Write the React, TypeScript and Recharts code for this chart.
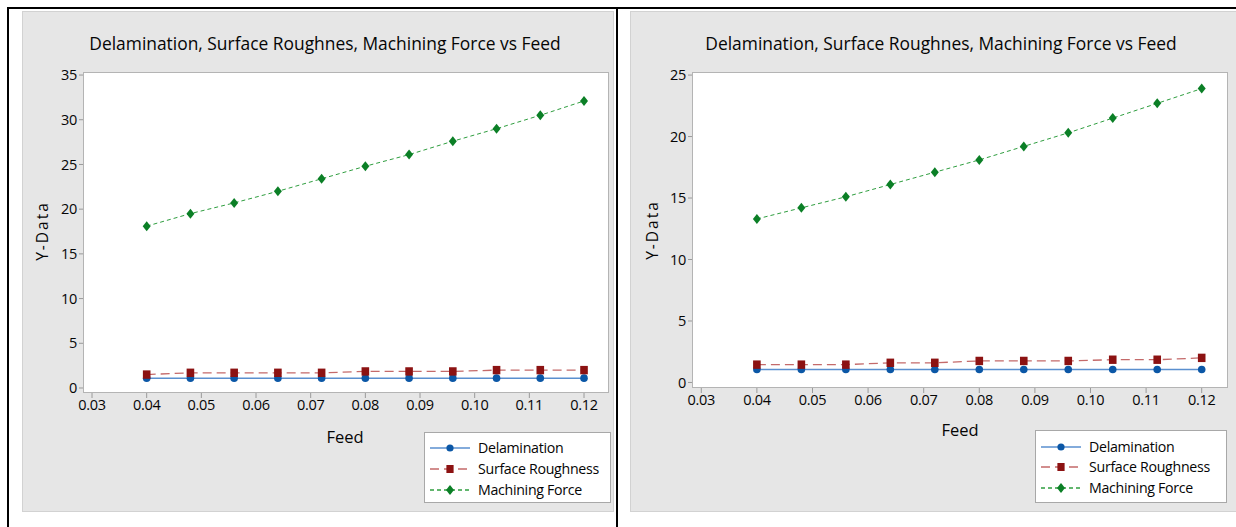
import React from 'react';
import { LineChart, Line, XAxis, YAxis } from 'recharts';

// feed values shared by both panels
const FEED = [0.04, 0.048, 0.056, 0.064, 0.072, 0.08, 0.088, 0.096, 0.104, 0.112, 0.12];
const X_TICKS = [0.03, 0.04, 0.05, 0.06, 0.07, 0.08, 0.09, 0.1, 0.11, 0.12];

// left panel
const DELAM_A = [1.1, 1.1, 1.1, 1.1, 1.1, 1.1, 1.1, 1.1, 1.1, 1.1, 1.1];
const ROUGH_A = [1.5, 1.7, 1.7, 1.7, 1.7, 1.85, 1.85, 1.85, 2.0, 2.0, 2.0];
const FORCE_A = [18.1, 19.5, 20.7, 22.0, 23.4, 24.8, 26.1, 27.6, 29.0, 30.5, 32.1];
const Y_TICKS_A = [0, 5, 10, 15, 20, 25, 30, 35];

// right panel
const DELAM_B = [1.05, 1.05, 1.05, 1.05, 1.05, 1.05, 1.05, 1.05, 1.05, 1.05, 1.05];
const ROUGH_B = [1.45, 1.45, 1.45, 1.6, 1.6, 1.75, 1.75, 1.75, 1.85, 1.85, 2.0];
const FORCE_B = [13.3, 14.2, 15.1, 16.1, 17.1, 18.1, 19.2, 20.3, 21.5, 22.7, 23.9];
const Y_TICKS_B = [0, 5, 10, 15, 20, 25];

const TITLE = 'Delamination, Surface Roughnes, Machining Force vs Feed';
const FONT = '"Open Sans", "Noto Sans", sans-serif';
const INK = '#050505';

const BLUE_LINE = '#5a8fcf';
const BLUE_DOT = '#0b57a6';
const RED_LINE = '#c46a6a';
const RED_DOT = '#8c1212';
const GREEN_LINE = '#2f9e3f';
const GREEN_DOT = '#0b7f26';

const CircleDot = (p: any) => <circle key={p.index} cx={p.cx} cy={p.cy} r={3.8} fill={BLUE_DOT} />;
const SquareDot = (p: any) => (
  <rect key={p.index} x={p.cx - 3.8} y={p.cy - 4.2} width={7.6} height={8.4} fill={RED_DOT} />
);
const DiamondDot = (p: any) => (
  <path
    key={p.index}
    d={`M${p.cx},${p.cy - 5}L${p.cx + 4},${p.cy}L${p.cx},${p.cy + 5}L${p.cx - 4},${p.cy}Z`}
    fill={GREEN_DOT}
  />
);

const buildRows = (d: number[], r: number[], f: number[]) =>
  FEED.map((x, i) => ({ feed: x, delam: d[i], rough: r[i], force: f[i] }));

const fmtX = (v: number) => v.toFixed(2);

type PanelProps = {
  left: number; // page x of the chart svg
  width: number;
  plot: { x0: number; x1: number; y0: number; y1: number }; // page coords
  xDomain: [number, number];
  yDomain: [number, number];
  yTicks: number[];
  rows: any[];
  titleX: number;
  yLabel: { x: number; y: number };
  xLabel: { x: number; y: number };
  legend: { x0: number; x1: number; y0: number; y1: number; rows: number[]; lineX0: number; textX: number };
};

const LegendSwatch = ({ stroke, dash, dot }: { stroke: string; dash?: string; dot: string }) => {
  const w = 40;
  const c = w / 2;
  return (
    <svg width={w} height={12} style={{ position: 'absolute', left: 0, top: -6 }}>
      <line x1={0} y1={6} x2={w} y2={6} stroke={stroke} strokeWidth={1.3} strokeDasharray={dash} />
      {dot === 'circle' && <circle cx={c} cy={6} r={3.6} fill={BLUE_DOT} />}
      {dot === 'square' && <rect x={c - 3.6} y={2} width={7.2} height={8} fill={RED_DOT} />}
      {dot === 'diamond' && <path d={`M${c},1L${c + 4},6L${c},11L${c - 4},6Z`} fill={GREEN_DOT} />}
    </svg>
  );
};

const Panel = (props: PanelProps) => {
  const { left, width, plot, xDomain, yDomain, yTicks, rows, titleX, yLabel, xLabel, legend } = props;
  const H = 527;
  const yAxisW = 40;
  const xAxisH = 30;
  const margin = {
    top: plot.y0,
    bottom: H - plot.y1 - xAxisH,
    left: plot.x0 - left - yAxisW,
    right: left + width - plot.x1,
  };
  const items = [
    { name: 'Delamination', stroke: BLUE_LINE, dash: undefined, dot: 'circle' },
    { name: 'Surface Roughness', stroke: RED_LINE, dash: '9 5', dot: 'square' },
    { name: 'Machining Force', stroke: GREEN_LINE, dash: '4 3', dot: 'diamond' },
  ];
  const tickStyle = { fill: INK, fontSize: 14.5, fontFamily: FONT, letterSpacing: -0.3 };
  return (
    <>
      <div
        style={{
          position: 'absolute',
          left: plot.x0,
          top: plot.y0,
          width: plot.x1 - plot.x0,
          height: plot.y1 - plot.y0,
          background: '#fff',
          boxSizing: 'border-box',
          border: '1px solid #b4b4b4',
        }}
      />
      <div
        style={{
          position: 'absolute',
          left: titleX - 300,
          width: 600,
          top: 31,
          textAlign: 'center',
          fontFamily: FONT,
          fontSize: 17.4,
          color: INK,
          whiteSpace: 'nowrap',
        }}
      >
        {TITLE}
      </div>
      <div
        style={{
          position: 'absolute',
          left: yLabel.x - 50,
          top: yLabel.y - 12,
          width: 100,
          height: 24,
          lineHeight: '24px',
          textAlign: 'center',
          transform: 'rotate(-90deg)',
          fontFamily: FONT,
          fontSize: 15.5,
          letterSpacing: 2,
          color: INK,
        }}
      >
        Y-Data
      </div>
      <div
        style={{
          position: 'absolute',
          left: xLabel.x - 50,
          top: xLabel.y - 12,
          width: 100,
          height: 24,
          lineHeight: '24px',
          textAlign: 'center',
          fontFamily: FONT,
          fontSize: 16.5,
          color: INK,
        }}
      >
        Feed
      </div>
      <div style={{ position: 'absolute', left, top: 0 }}>
        <LineChart width={width} height={H} data={rows} margin={margin}>
          <XAxis
            dataKey="feed"
            type="number"
            domain={xDomain}
            ticks={X_TICKS}
            tickFormatter={fmtX}
            allowDataOverflow
            height={xAxisH}
            axisLine={false}
            tickSize={5}
            tickLine={{ stroke: '#9a9a9a' }}
            tick={tickStyle}
            interval={0}
          />
          <YAxis
            type="number"
            domain={yDomain}
            ticks={yTicks}
            allowDataOverflow
            width={yAxisW}
            axisLine={false}
            tickSize={4}
            tickLine={{ stroke: '#9a9a9a' }}
            tick={tickStyle}
            interval={0}
          />
          <Line dataKey="delam" stroke={BLUE_LINE} strokeWidth={1.5} dot={CircleDot} isAnimationActive={false} />
          <Line
            dataKey="rough"
            stroke={RED_LINE}
            strokeWidth={1.3}
            strokeDasharray="9 5"
            dot={SquareDot}
            isAnimationActive={false}
          />
          <Line
            dataKey="force"
            stroke={GREEN_LINE}
            strokeWidth={1}
            strokeDasharray="4 3"
            dot={DiamondDot}
            isAnimationActive={false}
          />
        </LineChart>
      </div>
      <div
        style={{
          position: 'absolute',
          left: legend.x0,
          top: legend.y0,
          width: legend.x1 - legend.x0,
          height: legend.y1 - legend.y0,
          background: '#fff',
          boxSizing: 'border-box',
          border: '1px solid #a8a8a8',
        }}
      />
      {items.map((it, i) => (
        <div key={it.name} style={{ position: 'absolute', left: legend.lineX0, top: legend.rows[i] }}>
          <LegendSwatch stroke={it.stroke} dash={it.dash} dot={it.dot} />
          <div
            style={{
              position: 'absolute',
              left: legend.textX - legend.lineX0,
              top: -11,
              lineHeight: '22px',
              whiteSpace: 'nowrap',
              fontFamily: FONT,
              fontSize: 14.2,
              letterSpacing: -0.3,
              color: INK,
            }}
          >
            {it.name}
          </div>
        </div>
      ))}
    </>
  );
};

export default function App() {
  return (
    <div
      style={{
        position: 'absolute',
        left: 0,
        top: 0,
        width: 1236,
        height: 527,
        background: '#fff',
        overflow: 'hidden',
      }}
    >
      {/* gray panel backgrounds */}
      <div
        style={{
          position: 'absolute', left: 22, top: 11, width: 592, height: 501,
          background: '#e6e6e6', boxSizing: 'border-box', border: '1px solid #d2d2d2',
        }}
      />
      <div
        style={{
          position: 'absolute', left: 630, top: 11, width: 610, height: 501,
          background: '#e6e6e6', boxSizing: 'border-box', border: '1px solid #d2d2d2',
        }}
      />
      {/* black frame lines */}
      <div style={{ position: 'absolute', left: 7, top: 7, width: 1229, height: 2, background: '#000' }} />
      <div style={{ position: 'absolute', left: 7, top: 7, width: 2, height: 520, background: '#000' }} />
      <div style={{ position: 'absolute', left: 616, top: 7, width: 2, height: 520, background: '#000' }} />

      <Panel
        left={0}
        width={616}
        plot={{ x0: 83, x1: 609, y0: 72, y1: 393 }}
        xDomain={[0.02835, 0.12457]}
        yDomain={[-0.56, 35.34]}
        yTicks={Y_TICKS_A}
        rows={buildRows(DELAM_A, ROUGH_A, FORCE_A)}
        titleX={325}
        yLabel={{ x: 42, y: 231 }}
        xLabel={{ x: 345, y: 437 }}
        legend={{ x0: 424, x1: 611, y0: 432, y1: 503, rows: [448, 469, 490], lineX0: 430, textX: 478 }}
      />
      <Panel
        left={616}
        width={620}
        plot={{ x0: 692, x1: 1228, y0: 72, y1: 388 }}
        xDomain={[0.02833, 0.12473]}
        yDomain={[-0.45, 25.25]}
        yTicks={Y_TICKS_B}
        rows={buildRows(DELAM_B, ROUGH_B, FORCE_B)}
        titleX={941}
        yLabel={{ x: 652, y: 230 }}
        xLabel={{ x: 960, y: 430 }}
        legend={{ x0: 1035, x1: 1227, y0: 430, y1: 503, rows: [447, 467, 488], lineX0: 1041, textX: 1089 }}
      />
    </div>
  );
}
